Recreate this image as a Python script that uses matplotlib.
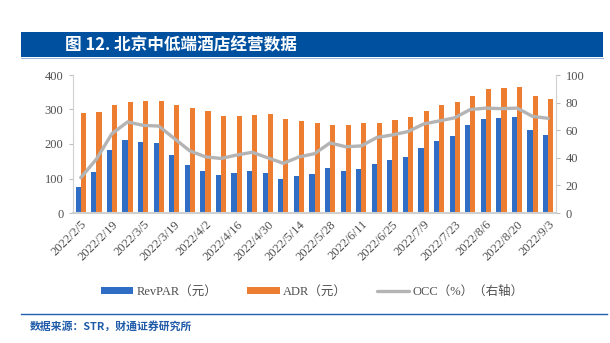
import numpy as np
import matplotlib
matplotlib.use("Agg")
import matplotlib.pyplot as plt
from matplotlib.patches import Rectangle
from matplotlib.lines import Line2D

dates = ["2022/2/5", "2022/2/12", "2022/2/19", "2022/2/26", "2022/3/5", "2022/3/12",
         "2022/3/19", "2022/3/26", "2022/4/2", "2022/4/9", "2022/4/16", "2022/4/23",
         "2022/4/30", "2022/5/7", "2022/5/14", "2022/5/21", "2022/5/28", "2022/6/4",
         "2022/6/11", "2022/6/18", "2022/6/25", "2022/7/2", "2022/7/9", "2022/7/16",
         "2022/7/23", "2022/7/30", "2022/8/6", "2022/8/13", "2022/8/20", "2022/8/27",
         "2022/9/3"]
revpar = [75, 120, 182, 212, 207, 204, 167, 138, 121, 111, 117, 123, 116, 99, 108, 114,
          129, 123, 128, 142, 153, 162, 189, 208, 223, 254, 272, 275, 277, 240, 226]
adr = [290, 294, 313, 322, 326, 326, 313, 303, 295, 282, 282, 284, 288, 272, 267, 262,
       255, 256, 260, 260, 270, 277, 295, 312, 323, 339, 358, 361, 364, 340, 329]
occ = [25.6, 39, 57.5, 66, 63.5, 63, 54, 45, 40.7, 39.5, 42, 44, 40, 36, 40.6, 43,
       50.8, 48, 48.6, 54.7, 56.6, 59, 64.5, 66.7, 69, 75, 76, 75.6, 76, 70, 68.6]

blue = "#2F6EC4"
orange = "#ED7D31"
gray = "#B4B4B4"
tick_color = "#505050"
serif = ["Liberation Serif", "Noto Sans CJK SC"]

fig = plt.figure(figsize=(6.10, 3.43), dpi=100)
W, H = 610, 343

# title bar
fig.patches.append(Rectangle((20.5 / W, 1 - 57.3 / H), (603 - 20.5) / W, 25 / H,
                             transform=fig.transFigure, facecolor="#0050A0",
                             edgecolor="none", zorder=0))
fig.lines.append(Line2D([20.5 / W, 603 / W], [1 - 57.8 / H, 1 - 57.8 / H],
                        transform=fig.transFigure, color="#9DB8DA", lw=0.8))
fig.text(65 / W, 1 - 45 / H, "图 12. 北京中低端酒店经营数据", color="white",
         fontsize=12, fontweight="bold", va="center", ha="left",
         family=["Noto Sans CJK SC", "DejaVu Sans"])

# bottom separator and source
fig.lines.append(Line2D([20.5 / W, 607 / W], [1 - 314 / H, 1 - 314 / H],
                        transform=fig.transFigure, color="#1F5FAF", lw=1.0))
fig.text(30 / W, 1 - 326.5 / H, "数据来源：STR，财通证券研究所", color="#1F5BA8",
         fontsize=7.8, fontweight="bold", va="center", ha="left",
         family=["Noto Sans CJK SC", "DejaVu Sans"])

ax = fig.add_axes([73 / W, 1 - 213 / H, (556 - 73) / W, (213 - 75) / H])
x = np.arange(len(dates))
bw = 0.33
ax.bar(x - bw / 2, revpar, width=bw, color=blue, label="RevPAR（元）", zorder=2)
ax.bar(x + bw / 2, adr, width=bw, color=orange, label="ADR（元）", zorder=2)
ax.set_xlim(-0.5, len(dates) - 0.5)
ax.set_ylim(0, 400)
ax.set_yticks([0, 100, 200, 300, 400])
ax.set_xticks(x[::2])
ax.set_xticklabels(dates[::2], rotation=45, ha="right", rotation_mode="anchor")
ax.tick_params(axis="x", length=0, pad=4, labelsize=9, labelcolor=tick_color)
ax.tick_params(axis="y", length=3, color="#BFBFBF", labelsize=9, labelcolor=tick_color, pad=4)
for lab in ax.get_xticklabels() + ax.get_yticklabels():
    lab.set_family(serif)
for s in ["top", "right"]:
    ax.spines[s].set_visible(False)
ax.spines["left"].set_color("#D0D0D0")
ax.spines["bottom"].set_color("#D0D0D0")
ax.spines["bottom"].set_linewidth(1.5)

ax2 = ax.twinx()
ax2.plot(x, occ, color=gray, lw=2.4, solid_joinstyle="round", solid_capstyle="round",
         label="OCC（%）（右轴）", zorder=3)
ax2.set_ylim(0, 100)
ax2.set_yticks([0, 20, 40, 60, 80, 100])
ax2.tick_params(axis="y", length=3, color="#BFBFBF", labelsize=9, labelcolor=tick_color, pad=4)
for lab in ax2.get_yticklabels():
    lab.set_family(serif)
for s in ["top", "left", "bottom"]:
    ax2.spines[s].set_visible(False)
ax2.spines["right"].set_color("#D0D0D0")

h1, l1 = ax.get_legend_handles_labels()
h2, l2 = ax2.get_legend_handles_labels()
leg = fig.legend(h1 + h2, l1 + l2, loc="center", bbox_to_anchor=(312 / W, 1 - 292 / H),
                 ncol=3, frameon=False, prop={"family": serif, "size": 9},
                 handlelength=2.6, handleheight=0.5, columnspacing=2.4, handletextpad=0.25,
                 labelcolor=tick_color)

fig.savefig("out.png", dpi=100)
